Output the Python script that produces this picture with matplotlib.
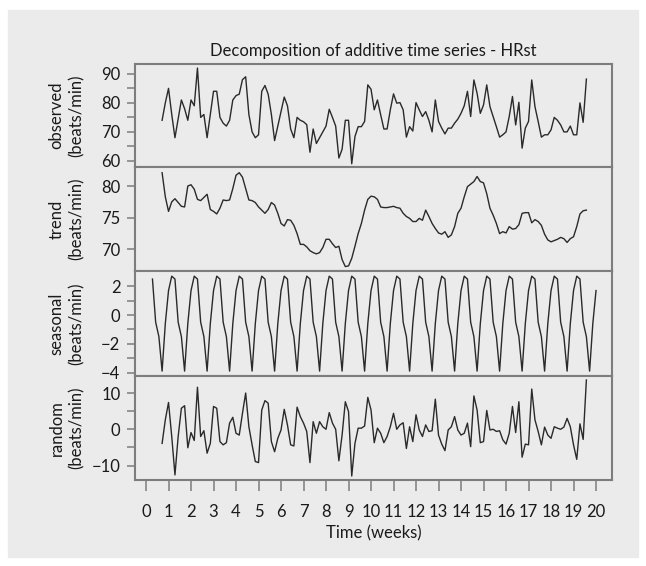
import matplotlib.pyplot as plt
import numpy as np
from matplotlib.patches import Rectangle

plt.rcParams['font.family'] = ['Lato', 'DejaVu Sans']

# daily values, first one falls on day 5 (week 0 + 5 days)
start_day = 5
observed = [74, 80, 85, 76, 68, 74.5, 81, 78, 74, 81, 79, 92, 75, 76, 68, 76,
            84, 84, 75, 73, 72, 74, 81, 82.5, 83, 88, 89, 76, 70, 68, 69, 84,
            86, 83, 76, 67, 72, 77, 82, 79, 71, 68, 75, 74, 73.5, 72.5, 63, 71,
            66, 68, 70, 72, 77.8, 75, 72, 61, 64, 74, 74, 59, 68.4, 71.8, 71.8,
            73.6, 86.2, 84.7, 77.6, 81, 75.9, 71, 71, 77.6, 83.1, 79.9, 80.1,
            77.6, 68.2, 71.8, 70.3, 80.1, 77.6, 75.3, 77, 74, 70, 81, 73.6,
            71.3, 69.3, 71.3, 71.3, 73, 74.4, 76.4, 79, 84, 75.3, 87.9, 83.3,
            76.4, 79.3, 86.2, 78.7, 75.3, 71.8, 68.2, 69, 70, 75.3, 82.2, 72.4,
            80.2, 64.4, 71.3, 73.6, 87.9, 78.7, 73.6, 68.2, 69, 69, 70.7, 75,
            74, 72.4, 70, 70, 72, 69, 69, 80, 73.3, 88.2]
trend = [82.1, 78.3, 76, 77.5, 78, 77.4, 76.8, 76.7, 80, 80.2, 79.5, 77.9, 77.7,
         78.2, 78.7, 76.3, 76, 75.6, 76.5, 77.8, 77.7, 77.8, 79.6, 81.7, 82.1,
         81.4, 79.6, 77.8, 77.7, 77.4, 76.7, 76.2, 75.7, 76.3, 77.4, 77, 75.7,
         74.1, 73.7, 74.7, 74.6, 73.8, 72.5, 70.8, 70.8, 70.4, 69.8, 69.5, 69.3,
         69.5, 70.3, 71.6, 71.6, 70.9, 70.3, 70.5, 68.4, 67.3, 67.4, 68.6, 70.5,
         72.5, 74.1, 76.2, 77.9, 78.4, 78.3, 77.9, 76.7, 76.6, 76.6, 76.7, 76.8,
         76.6, 76.5, 75.7, 75.2, 74.9, 74.4, 74.4, 74.9, 74.6, 76.2, 75.2, 74.1,
         73.3, 72.6, 72.4, 72.8, 71.9, 72.3, 73.6, 75.7, 76.5, 78.3, 79.9, 80.3,
         80.7, 81.5, 80.7, 80.5, 78.8, 76.5, 75.4, 74.1, 72.5, 72.8, 72.6, 73.6,
         73.2, 73.3, 73.9, 75.7, 75.8, 75.8, 74.2, 74.7, 74.4, 73.8, 72.4, 71.5,
         71.2, 71.4, 71.6, 71.9, 71.7, 71.1, 71.7, 72, 73.6, 75.6, 76.1, 76.2]
random_part = [-3.9, 2.6, 7.4, -2, -12.6, -2, 5.8, 6.5, -5.1, -0.9, -3.1, 11.6,
               -2, -0.4, -6.6, -3.9, 6.3, 5.8, -3.4, -4.3, -3.7, 1.7, 3.3, -1.1,
               -1.6, 4.4, 10, 0.7, -4.3, -8.9, -9.2, 5.3, 7.9, 7.2, -3.4, -6.2,
               -2.5, -0.2, 5.5, 1.2, -4.3, -4.6, 6.1, 3.5, 1.7, -0.6, -9.2, 2.1,
               -1.1, 2.1, 0.7, 0, 4.6, 1.7, 0, -8.7, -1.6, 7.6, 4.9, -12.9, -3.9,
               0.3, 0.3, 0.9, 8.8, 5.3, -3.7, 0.3, -1.1, -3.7, -2, 0.7, 4.4, 0,
               1.2, 1.8, -5.3, 0.7, -3.4, 4, -0.2, -2, 1.2, -0.6, -0.4, 8.3,
               -1.6, -4.1, -5.9, -0.2, 0.7, 3.5, -0.2, -1.6, -1.1, 1.7, -4.8,
               9.2, 5.3, -3.7, -3.4, 5.2, -0.2, 0, -0.6, -0.4, -2.9, -4.1, -1.1,
               6.3, -0.9, 7.6, -7.7, -4.1, -4.3, 11.1, 2.6, -0.6, -4.3, 0.6,
               -1.6, -2.5, 0.7, 0.3, 0, 0.6, 3, 0.7, -4.3, -8.3, 1.5, -2.8, 13.6]

# weekly seasonal pattern, drawn from day 2 to day 140
seasonal_start_day = 2
seasonal_week = [2.5, -0.5, -1.5, -3.9, -0.6, 1.7, 2.7]
seasonal = np.tile(seasonal_week, 20)[:139]

obs_weeks = (start_day + np.arange(len(observed))) / 7
seas_weeks = (seasonal_start_day + np.arange(len(seasonal))) / 7

panels = [
    (obs_weeks, observed, 'observed', (57.9, 93.4), [60, 70, 80, 90], [65, 75, 85]),
    (obs_weeks, trend, 'trend', (66.6, 83.0), [70, 75, 80], []),
    (seas_weeks, seasonal, 'seasonal', (-4.24, 3.06), [-4, -2, 0, 2], [-3, -1, 1]),
    (obs_weeks, random_part, 'random', (-14.0, 14.7), [-10, 0, 10], [-5, 5]),
]

W, H = 646, 566
fig = plt.figure(figsize=(W / 100, H / 100), dpi=100, facecolor='white')
bg = '#ebebeb'
fig.add_artist(Rectangle((8 / W, 1 - 557 / H), 630 / W, 547 / H,
                         transform=fig.transFigure, color=bg, zorder=-10))

edge = '#7d7d7d'
txt = '#1a1a1a'
fs = 12
tops = [64, 167, 271, 376]
bottom_px = 480
left, right = 135 / W, 612 / W
axes = []
for i, (x, y, name, ylim, major, minor) in enumerate(panels):
    top = tops[i]
    bot = tops[i + 1] if i < 3 else bottom_px
    ax = fig.add_axes([left, 1 - bot / H, right - left, (bot - top) / H])
    ax.set_facecolor(bg)
    ax.plot(x, y, color='#2a2a2a', lw=1.0)
    ax.set_xlim(-0.49, 20.71)
    ax.set_ylim(*ylim)
    ax.set_yticks(major)
    ax.set_yticks(minor, minor=True)
    ax.tick_params(axis='y', which='both', length=5.5, width=1.1, color=edge,
                   labelsize=fs, pad=5, labelcolor=txt)
    ax.set_ylabel(name + '\n(beats/min)', fontsize=fs, linespacing=1.3,
                  color=txt)
    for s in ax.spines.values():
        s.set_color(edge)
        s.set_linewidth(1.5)
    if i < 3:
        ax.set_xticks([])
    axes.append(ax)

for ax in axes:
    ax.yaxis.set_label_coords(-0.106, 0.5)

axes[-1].set_xticks(range(0, 21))
axes[-1].tick_params(axis='x', length=8.0, width=1.1, color=edge, labelsize=fs,
                     pad=9, labelcolor=txt)
axes[-1].set_xlabel('Time (weeks)', fontsize=fs, color=txt, labelpad=4)
axes[0].set_title('Decomposition of additive time series - HRst', fontsize=fs,
                  color=txt, pad=6)

fig.savefig('out.png', dpi=100, facecolor=fig.get_facecolor())
